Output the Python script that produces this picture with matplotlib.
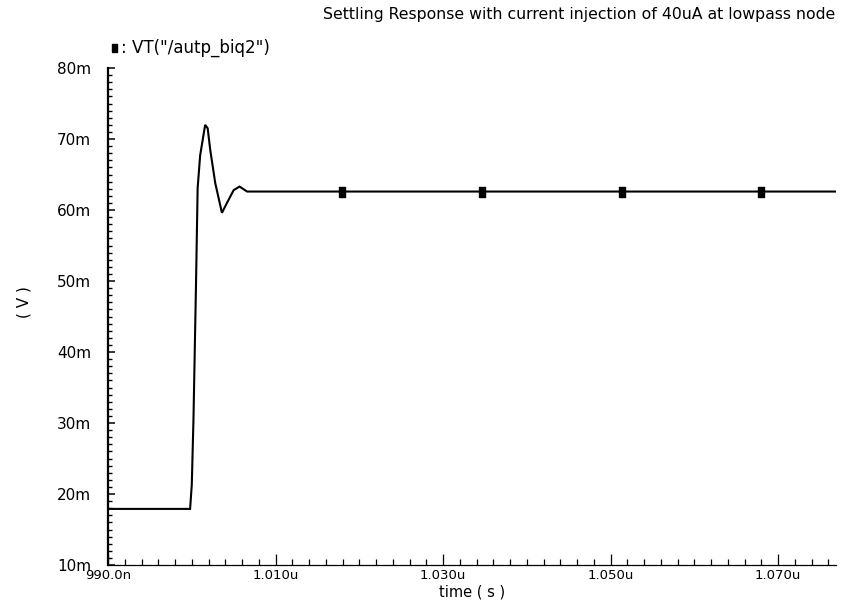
import numpy as np
import matplotlib
matplotlib.use('Agg')
import matplotlib.pyplot as plt
from matplotlib.ticker import MultipleLocator, FuncFormatter

# transient trace of VT("/autp_biq2"), time in ns, voltage in mV
time_ns = [990.0, 999.8, 1000.0, 1000.2, 1000.5, 1000.7, 1001.0, 1001.6, 1001.9,
           1002.2, 1002.8, 1003.6, 1004.2, 1005.0, 1005.7, 1006.6, 1008.0, 1076.9]
volt_mv = [17.9, 17.9, 21.3, 30.4, 49.2, 63.1, 67.7, 72.0, 71.5,
           68.5, 63.8, 59.6, 61.0, 62.8, 63.3, 62.6, 62.6, 62.6]
# positions of the trace markers
marker_ns = [1017.9, 1034.6, 1051.4, 1068.0]

title = 'Settling Response with current injection of 40uA at lowpass node'
legend_text = ': VT("/autp_biq2")'

plt.rcParams['font.family'] = ['DejaVu Sans']
fig = plt.figure(figsize=(8.42, 6.07), dpi=100)
ax = fig.add_axes([108/842, 1 - 565/607, (836 - 108)/842, (565 - 68)/607])

# tall rectangle marker like the simulator's
rect = [(-0.6, -1), (0.6, -1), (0.6, 1), (-0.6, 1), (-0.6, -1)]

ax.plot(time_ns, volt_mv, color='black', lw=1.5, solid_joinstyle='miter')
ax.plot(marker_ns, np.interp(marker_ns, time_ns, volt_mv), ls='none',
        marker=rect, ms=6.5, color='black')

ax.set_xlim(990.0, 1076.9)
ax.set_ylim(10, 80)

for s in ['top', 'right']:
    ax.spines[s].set_visible(False)
ax.spines['left'].set_linewidth(1.6)
ax.spines['bottom'].set_linewidth(0.9)

def xfmt(v, pos):
    if v < 1000:
        return '%.1fn' % v
    return '%.3fu' % (v / 1000.0)

ax.set_xticks(np.arange(990, 1077, 20))
ax.xaxis.set_minor_locator(MultipleLocator(2))
ax.xaxis.set_major_formatter(FuncFormatter(xfmt))
ax.yaxis.set_major_locator(MultipleLocator(10))
ax.yaxis.set_minor_locator(MultipleLocator(1))
ax.yaxis.set_major_formatter(FuncFormatter(lambda v, p: '%dm' % round(v)))

ax.tick_params(axis='both', which='both', direction='in', colors='black')
ax.tick_params(axis='x', which='major', length=8, width=0.9, pad=3, labelsize=9.5)
ax.tick_params(axis='x', which='minor', length=4, width=0.9)
ax.tick_params(axis='y', which='major', length=5, width=1.1, pad=12, labelsize=11)
ax.tick_params(axis='y', which='minor', length=3, width=1.0)

ax.set_xlabel('time ( s )', fontsize=10.5, labelpad=2)
ax.set_ylabel('( V )', fontsize=11)
ax.yaxis.set_label_coords(-0.105, 0.53)

fig.text(0.992, 1 - 15/607, title, ha='right', va='center', fontsize=11.3)
ax.plot([0.008], [1.04], marker=rect, ms=6, color='black', transform=ax.transAxes,
        clip_on=False)
ax.text(0.018, 1.04, legend_text, transform=ax.transAxes, ha='left', va='center',
        fontsize=12)

fig.savefig('out.png', dpi=100)
